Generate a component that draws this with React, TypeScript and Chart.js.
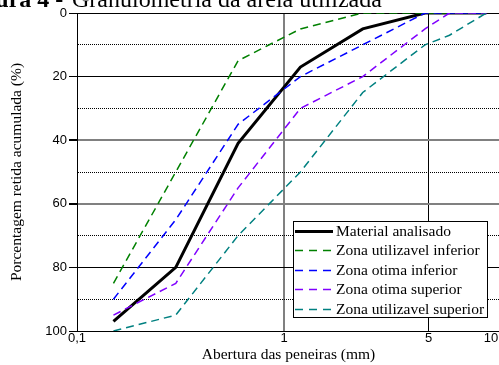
import React, { useEffect, useRef } from 'react';
import { Chart, registerables } from 'chart.js';

Chart.register(...registerables);

// ---- data ----
const sieveSizes = [0.15, 0.3, 0.6, 1.2, 2.4, 4.8, 6.3, 9.5];
const materialAnalisado = [97, 80, 41, 17, 5, 0, 0, 0];
const zonaUtilizavelInferior = [85, 50, 15, 5, 0, 0, 0, 0];
const zonaOtimaInferior = [90, 65, 35, 20, 10, 0, 0, 0];
const zonaOtimaSuperior = [95, 85, 55, 30, 20, 5, 0, 0];
const zonaUtilizavelSuperior = [100, 95, 70, 50, 25, 10, 7, 0];

const seriesLabels = [
  'Material analisado',
  'Zona utilizavel inferior',
  'Zona otima inferior',
  'Zona otima superior',
  'Zona utilizavel superior',
];

const xTickValues = [0.1, 1, 5, 10];
const xTickLabels = ['0,1', '1', '5', '10'];
const yTickValues = [0, 10, 20, 30, 40, 50, 60, 70, 80, 90, 100];
const yTickLabels = ['0', '', '20', '', '40', '', '60', '', '80', '', '100'];

const SERIF = '"Liberation Serif", "Times New Roman", serif';
const SANS = '"Liberation Sans", Arial, sans-serif';

const legendPlugin = {
  id: 'boxLegend',
  afterDraw(chart: any) {
    const ctx = chart.ctx as CanvasRenderingContext2D;
    const x0 = 293, y0 = 221, w = 194, h = 96;
    ctx.save();
    ctx.fillStyle = '#ffffff';
    ctx.fillRect(x0, y0, w, h);
    ctx.strokeStyle = '#000000';
    ctx.lineWidth = 1;
    ctx.setLineDash([]);
    ctx.strokeRect(x0 + 0.5, y0 + 0.5, w, h);
    chart.data.datasets.forEach((ds: any, i: number) => {
      const y = Math.round(y0 + 10 + i * 19.4) + 0.5;
      ctx.beginPath();
      ctx.setLineDash(ds.borderDash ? [8, 6] : []);
      ctx.lineWidth = ds.borderWidth;
      ctx.strokeStyle = ds.borderColor;
      ctx.moveTo(x0 + 2, y);
      ctx.lineTo(x0 + 40, y);
      ctx.stroke();
      ctx.setLineDash([]);
      ctx.fillStyle = '#000000';
      ctx.font = `15.5px ${SERIF}`;
      ctx.textBaseline = 'middle';
      ctx.textAlign = 'left';
      ctx.fillText(ds.label, x0 + 43, y);
    });
    ctx.restore();
  },
};

export default function App() {
  const canvasRef = useRef<HTMLCanvasElement | null>(null);

  useEffect(() => {
    if (!canvasRef.current) return;
    const mk = (data: number[]) => sieveSizes.map((x, i) => ({ x, y: data[i] }));
    const dashed = (label: string, data: number[], color: string, order: number) => ({
      label,
      data: mk(data),
      borderColor: color,
      backgroundColor: color,
      borderWidth: 1.5,
      borderDash: [8, 5],
      pointRadius: 0,
      tension: 0,
      fill: false,
      order,
    });
    const chart = new Chart(canvasRef.current, {
      type: 'line',
      data: {
        datasets: [
          {
            label: seriesLabels[0],
            data: mk(materialAnalisado),
            borderColor: '#000000',
            backgroundColor: '#000000',
            borderWidth: 3,
            pointRadius: 0,
            tension: 0,
            fill: false,
            order: 5,
          },
          dashed(seriesLabels[1], zonaUtilizavelInferior, '#008000', 4),
          dashed(seriesLabels[2], zonaOtimaInferior, '#0000ff', 3),
          dashed(seriesLabels[3], zonaOtimaSuperior, '#8000ff', 2),
          dashed(seriesLabels[4], zonaUtilizavelSuperior, '#008080', 1),
        ] as any,
      },
      options: {
        animation: false,
        responsive: false,
        devicePixelRatio: 1,
        layout: { padding: { top: 13, right: 5, left: 0, bottom: 0 } },
        plugins: {
          legend: { display: false },
          tooltip: { enabled: false },
          title: { display: false },
        },
        scales: {
          x: {
            type: 'logarithmic',
            min: 0.1,
            max: 11.05,
            afterBuildTicks: (scale: any) => {
              scale.ticks = xTickValues.map((value) => ({ value }));
            },
            afterFit: (scale: any) => {
              scale.height = 34;
            },
            ticks: {
              autoSkip: false,
              maxRotation: 0,
              padding: 0,
              color: '#000',
              font: { family: SANS, size: 13 },
              callback: (value: any) => {
                const idx = xTickValues.indexOf(Number(value));
                return idx >= 0 ? xTickLabels[idx] : '';
              },
            },
            grid: {
              drawTicks: false,
              color: (c: any) => {
                const v = c.tick ? c.tick.value : null;
                if (v === 1) return '#808080';
                if (v === 5) return '#000000';
                return 'rgba(0,0,0,0)';
              },
              lineWidth: (c: any) => (c.tick && c.tick.value === 1 ? 2 : 1),
            },
            border: { display: true, color: '#000', width: 1 },
            title: {
              display: true,
              text: 'Abertura das peneiras (mm)',
              color: '#000',
              font: { family: SERIF, size: 15.5 },
              padding: { top: 0, bottom: 1 },
            },
          },
          y: {
            type: 'linear',
            reverse: true,
            min: 0,
            max: 100,
            afterBuildTicks: (scale: any) => {
              scale.ticks = yTickValues.map((value) => ({ value }));
            },
            afterFit: (scale: any) => {
              scale.width = 77;
            },
            ticks: {
              autoSkip: false,
              padding: 2,
              color: '#000',
              font: { family: SANS, size: 13 },
              callback: (value: any) => {
                const idx = yTickValues.indexOf(Number(value));
                return idx >= 0 ? yTickLabels[idx] : '';
              },
            },
            grid: {
              tickLength: 8,
              color: (c: any) => {
                const v = c.tick ? c.tick.value : null;
                if (v === 40 || v === 60) return '#808080';
                return '#000000';
              },
              lineWidth: (c: any) => {
                const v = c.tick ? c.tick.value : null;
                return v === 40 || v === 60 ? 2 : 1;
              },
              tickColor: (c: any) => {
                const v = c.tick ? c.tick.value : null;
                return v !== null && v % 20 === 0 ? '#000000' : 'rgba(0,0,0,0)';
              },
            },
            border: {
              display: true,
              color: '#000',
              width: 1,
              dash: (c: any) => {
                const v = c.tick ? c.tick.value : null;
                return v !== null && v % 20 !== 0 ? [1, 1] : [];
              },
            },
            title: {
              display: true,
              text: 'Porcentagem retida acumulada (%)',
              color: '#000',
              font: { family: SERIF, size: 15.5 },
              padding: { top: 8, bottom: 0 },
            },
          },
        },
      } as any,
      plugins: [legendPlugin],
    });
    return () => chart.destroy();
  }, []);

  return (
    <div
      style={{
        position: 'fixed',
        left: 0,
        top: 0,
        width: 499,
        height: 365,
        overflow: 'hidden',
        background: '#fff',
      }}
    >
      <canvas ref={canvasRef} width={505} height={365} style={{ position: 'absolute', left: 0, top: 0 }} />
      <div
        style={{
          position: 'absolute',
          top: -13,
          left: -38,
          fontFamily: SERIF,
          fontSize: 24,
          lineHeight: '24px',
          fontWeight: 'bold',
          whiteSpace: 'nowrap',
          color: '#000',
        }}
      >
        Figura 4 -
      </div>
      <div
        style={{
          position: 'absolute',
          top: -13,
          left: 72,
          fontFamily: SERIF,
          fontSize: 24,
          lineHeight: '24px',
          whiteSpace: 'nowrap',
          color: '#000',
        }}
      >
        Granulometria da areia utilizada
      </div>
    </div>
  );
}
